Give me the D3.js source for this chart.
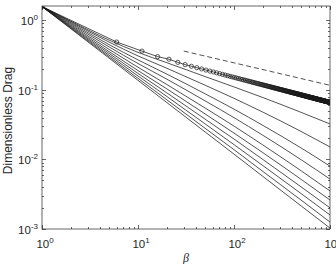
<!DOCTYPE html>
<html>
<head>
<meta charset="utf-8">
<script src="https://cdn.jsdelivr.net/npm/d3@7"></script>
<style>
  body { margin: 0; background: #fff; }
  svg { display: block; }
  text { font-family: "Liberation Sans", Arial, sans-serif; fill: #262626; }
</style>
</head>
<body>
<svg id="chart" width="336" height="264" viewBox="0 0 336 264"></svg>
<script>
// beta positions where the solid curves were read
const betaGrid = [1, 2, 5, 10, 20, 50, 100, 200, 500, 1000]

// solid curves, top to bottom
const dragCurves = [
    [1.57, 0.969, 0.517, 0.345, 0.245, 0.155, 0.110, 0.0774, 0.0474, 0.0323],
    [1.57, 0.946, 0.484, 0.307, 0.204, 0.1165, 0.0755, 0.0478, 0.0252, 0.0151],
    [1.57, 0.916, 0.446, 0.269, 0.168, 0.0876, 0.0527, 0.0308, 0.0146, 0.0080],
    [1.57, 0.887, 0.413, 0.239, 0.142, 0.0694, 0.0398, 0.0222, 0.0099, 0.00522],
    [1.57, 0.856, 0.381, 0.211, 0.119, 0.0548, 0.0301, 0.0161, 0.00687, 0.00352],
    [1.57, 0.829, 0.354, 0.189, 0.103, 0.0450, 0.0239, 0.0125, 0.00517, 0.00261],
    [1.57, 0.806, 0.333, 0.172, 0.0903, 0.0379, 0.0196, 0.00997, 0.00403, 0.00201],
    [1.57, 0.786, 0.314, 0.158, 0.0801, 0.0324, 0.0163, 0.00814, 0.00323, 0.00159],
    [1.57, 0.768, 0.298, 0.146, 0.0718, 0.0280, 0.0138, 0.00671, 0.00260, 0.00126],
    [1.57, 0.753, 0.285, 0.1365, 0.0655, 0.0248, 0.0119, 0.00569, 0.00215, 0.00103]
]

// circle markers, beta = 1, 6, 11, ... 996
const circleBeta = d3.range(1, 1000, 5)
const circleDrag = [1.57, 0.486, 0.36, 0.30, 0.275, 0.248,
    0.230, 0.218, 0.208, 0.1995, 0.1922, 0.1859, 0.1802, 0.1752, 0.1706, 0.1665,
    0.1627, 0.1593, 0.1561, 0.1531, 0.1503, 0.1477, 0.1453, 0.1430, 0.1408, 0.1388,
    0.1369, 0.1350, 0.1333, 0.1316, 0.1300, 0.1285, 0.1270, 0.1257, 0.1243, 0.1230,
    0.1218, 0.1206, 0.1195, 0.1184, 0.1173, 0.1163, 0.1153, 0.1143, 0.1134, 0.1125,
    0.1116, 0.1108, 0.1100, 0.1091, 0.1083, 0.1075, 0.1068, 0.1061, 0.1054, 0.1047,
    0.1040, 0.1033, 0.1027, 0.1021, 0.1015, 0.1009, 0.1003, 0.0997, 0.0992, 0.0986,
    0.0981, 0.0975, 0.0970, 0.0965, 0.0960, 0.0955, 0.0950, 0.0946, 0.0941, 0.0937,
    0.0932, 0.0928, 0.0924, 0.0919, 0.0915, 0.0911, 0.0907, 0.0903, 0.0899, 0.0895,
    0.0892, 0.0888, 0.0885, 0.0881, 0.0877, 0.0874, 0.0871, 0.0867, 0.0864, 0.0861,
    0.0857, 0.0854, 0.0851, 0.0848, 0.0845, 0.0842, 0.0839, 0.0836, 0.0833, 0.0830,
    0.0827, 0.0824, 0.0821, 0.0819, 0.0816, 0.0813, 0.0811, 0.0808, 0.0806, 0.0803,
    0.0801, 0.0798, 0.0796, 0.0793, 0.0791, 0.0788, 0.0786, 0.0784, 0.0781, 0.0779,
    0.0777, 0.0775, 0.0773, 0.0770, 0.0768, 0.0766, 0.0764, 0.0762, 0.0760, 0.0758,
    0.0756, 0.0754, 0.0752, 0.0750, 0.0748, 0.0746, 0.0744, 0.0743, 0.0741, 0.0739,
    0.0737, 0.0735, 0.0733, 0.0732, 0.0730, 0.0728, 0.0726, 0.0725, 0.0723, 0.0721,
    0.0720, 0.0718, 0.0716, 0.0715, 0.0713, 0.0712, 0.0710, 0.0709, 0.0707, 0.0706,
    0.0704, 0.0702, 0.0701, 0.0699, 0.0698, 0.0697, 0.0695, 0.0694, 0.0692, 0.0691,
    0.0689, 0.0688, 0.0686, 0.0685, 0.0684, 0.0682, 0.0681, 0.0680, 0.0678, 0.0677,
    0.0676, 0.0674, 0.0673, 0.0672, 0.0671, 0.0669, 0.0668, 0.0667, 0.0666, 0.0664,
    0.0663, 0.0662, 0.0661, 0.0660]

// dashed -1/3 reference slope
const dashBeta = [30, 1000]
const dashDrag = [0.36, 0.116]

const xTicks = [1, 10, 100, 1000]
const yTicks = [0.001, 0.01, 0.1, 1]

const svg = d3.select("#chart")
const mLeft = 42, mRight = 330, mTop = 6, mBottom = 229

const x = d3.scaleLog().domain([1, 1000]).range([mLeft, mRight])
const y = d3.scaleLog().domain([0.001, 1.6]).range([mBottom, mTop])

svg.append("clipPath").attr("id", "plotclip")
    .append("rect")
    .attr("x", mLeft).attr("y", mTop)
    .attr("width", mRight - mLeft).attr("height", mBottom - mTop)

const plot = svg.append("g").attr("clip-path", "url(#plotclip)")

const line = d3.line()
    .x(d => x(d[0]))
    .y(d => y(d[1]))
    .curve(d3.curveMonotoneX)

// solid family
plot.append("g")
    .selectAll("path")
    .data(dragCurves)
    .enter()
    .append("path")
    .attr("d", c => line(betaGrid.map((b, i) => [b, c[i]])))
    .attr("fill", "none")
    .attr("stroke", "#1a1a1a")
    .attr("stroke-width", 0.75)

// dashed reference
plot.append("path")
    .attr("d", d3.line().x(d => x(d[0])).y(d => y(d[1]))(dashBeta.map((b, i) => [b, dashDrag[i]])))
    .attr("fill", "none")
    .attr("stroke", "#1a1a1a")
    .attr("stroke-width", 0.75)
    .attr("stroke-dasharray", "5,3")

// envelope with circles
const circ = circleBeta.map((b, i) => [b, circleDrag[i]]).filter(d => d[1] !== undefined)
plot.append("path")
    .attr("d", d3.line().x(d => x(d[0])).y(d => y(d[1]))(circ))
    .attr("fill", "none")
    .attr("stroke", "#1a1a1a")
    .attr("stroke-width", 0.75)

plot.append("g")
    .selectAll("circle")
    .data(circ)
    .enter()
    .append("circle")
    .attr("cx", d => x(d[0]))
    .attr("cy", d => y(d[1]))
    .attr("r", 2.1)
    .attr("fill", "none")
    .attr("stroke", "#1a1a1a")
    .attr("stroke-width", 0.7)

// box and ticks (inward, all four sides)
const axisColor = "#262626"
const ax = svg.append("g").attr("stroke", axisColor).attr("stroke-width", 0.7)

x.ticks().forEach(t => {
    const len = xTicks.includes(t) ? 4 : 2
    const px = Math.round(x(t)) + 0.5
    ax.append("line").attr("x1", px).attr("x2", px).attr("y1", mBottom).attr("y2", mBottom - len)
    ax.append("line").attr("x1", px).attr("x2", px).attr("y1", mTop).attr("y2", mTop + len)
})
y.ticks().filter(t => t <= 1.6).forEach(t => {
    const len = yTicks.includes(t) ? 4 : 2
    const py = Math.round(y(t)) + 0.5
    ax.append("line").attr("x1", mLeft).attr("x2", mLeft + len).attr("y1", py).attr("y2", py)
    ax.append("line").attr("x1", mRight).attr("x2", mRight - len).attr("y1", py).attr("y2", py)
})
ax.append("rect")
    .attr("x", mLeft).attr("y", mTop)
    .attr("width", mRight - mLeft).attr("height", mBottom - mTop)
    .attr("fill", "none")

// tick labels 10^n
function powerLabel(g, v, px, py, anchor) {
    const t = g.append("text")
        .attr("x", px).attr("y", py)
        .attr("text-anchor", anchor)
        .style("font-size", "11.5px")
    t.append("tspan").text("10")
    t.append("tspan").attr("dy", -5).style("font-size", "8px").text(Math.round(Math.log10(v)))
}
const labels = svg.append("g")
xTicks.forEach(t => powerLabel(labels, t, x(t) + 3, 248, "middle"))
yTicks.forEach(t => powerLabel(labels, t, 38, y(t) + 5, "end"))

svg.append("text")
    .attr("transform", `translate(12,${(mTop + mBottom) / 2 + 3}) rotate(-90)`)
    .attr("text-anchor", "middle")
    .style("font-size", "12px")
    .text("Dimensionless Drag")

svg.append("text")
    .attr("x", (mLeft + mRight) / 2)
    .attr("y", 262)
    .attr("text-anchor", "middle")
    .style("font-size", "12px")
    .style("font-style", "italic")
    .style("font-family", "'Liberation Serif', 'DejaVu Serif', serif")
    .text("β")
</script>
</body>
</html>
